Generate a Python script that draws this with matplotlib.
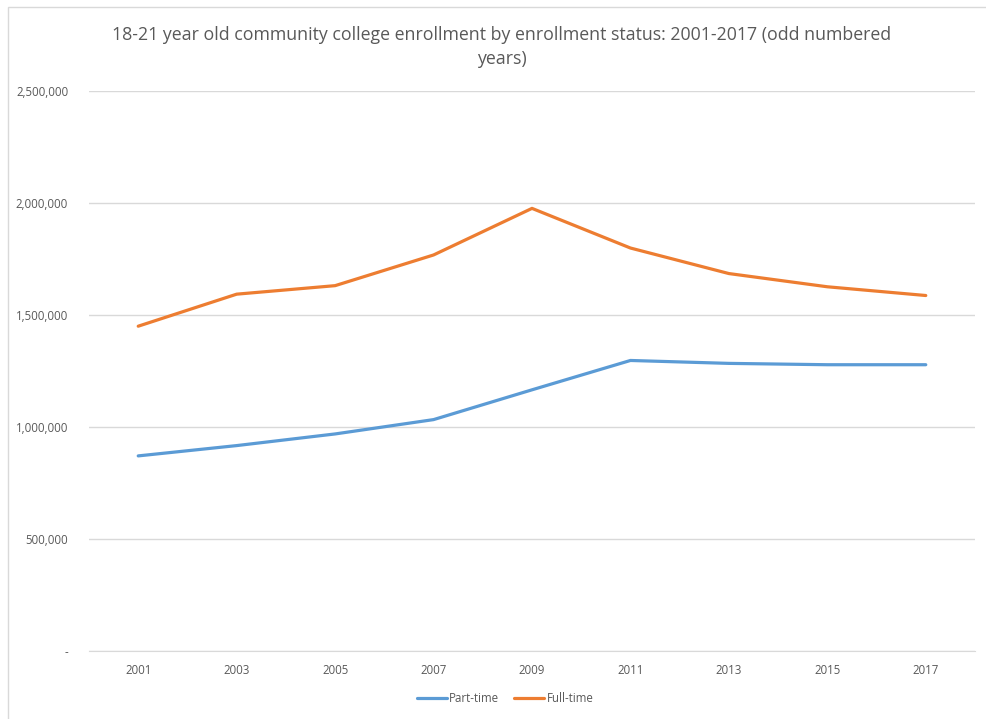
import matplotlib.pyplot as plt
from matplotlib.patches import Rectangle
from matplotlib.ticker import FuncFormatter


years = ["2001", "2003", "2005", "2007", "2009", "2011", "2013", "2015", "2017"]
part_time = [871000, 917000, 969000, 1033000, 1166000, 1297000, 1284000, 1278000, 1278000]
full_time = [1450000, 1593000, 1631000, 1768000, 1976000, 1799000, 1685000, 1626000, 1587000]

plt.rcParams['font.family'] = ['Open Sans', 'DejaVu Sans']
grey = '#595959'

fig = plt.figure(figsize=(9.86, 7.19), dpi=100)
ax = fig.add_axes([89 / 986, 1 - 651 / 719, (975 - 89) / 986, (651 - 91) / 719])

# chart border like excel
fig.patches.append(Rectangle((8 / 986, -0.1), 1.1, 1 - 7 / 719 + 0.1,
                             transform=fig.transFigure, fill=False,
                             edgecolor='#d9d9d9', linewidth=1))

x = list(range(len(years)))
ax.plot(x, part_time, color='#5B9BD5', linewidth=2.3, label='Part-time',
        solid_capstyle='round', solid_joinstyle='round')
ax.plot(x, full_time, color='#ED7D31', linewidth=2.3, label='Full-time',
        solid_capstyle='round', solid_joinstyle='round')

ax.set_xlim(-0.5, len(years) - 0.5)
ax.set_ylim(0, 2500000)
ax.set_yticks(range(0, 2500001, 500000))
ax.yaxis.set_major_formatter(FuncFormatter(lambda v, p: '-' if v == 0 else f'{int(v):,}'))
ax.set_xticks(x)
ax.set_xticklabels(years)

ax.grid(axis='y', color='#d9d9d9', linewidth=1)
ax.set_axisbelow(True)
for s in ['top', 'right', 'left']:
    ax.spines[s].set_visible(False)
ax.spines['bottom'].set_color('#d9d9d9')
ax.tick_params(axis='both', length=0, labelsize=8.3, colors=grey)
ax.tick_params(axis='y', pad=15)
ax.tick_params(axis='x', pad=9)

fig.text(502 / 986, 1 - 47 / 719,
         "18-21 year old community college enrollment by enrollment status: 2001-2017 (odd numbered\nyears)",
         ha='center', va='center', fontsize=12.8, color=grey, linespacing=1.4)

ax.legend(loc='center', bbox_to_anchor=(505 / 986, 1 - 699 / 719),
          bbox_transform=fig.transFigure, ncol=2, frameon=False,
          fontsize=8.3, labelcolor=grey, handlelength=2.6,
          handletextpad=0.2, columnspacing=1.3)

fig.savefig("out.png", dpi=100)
